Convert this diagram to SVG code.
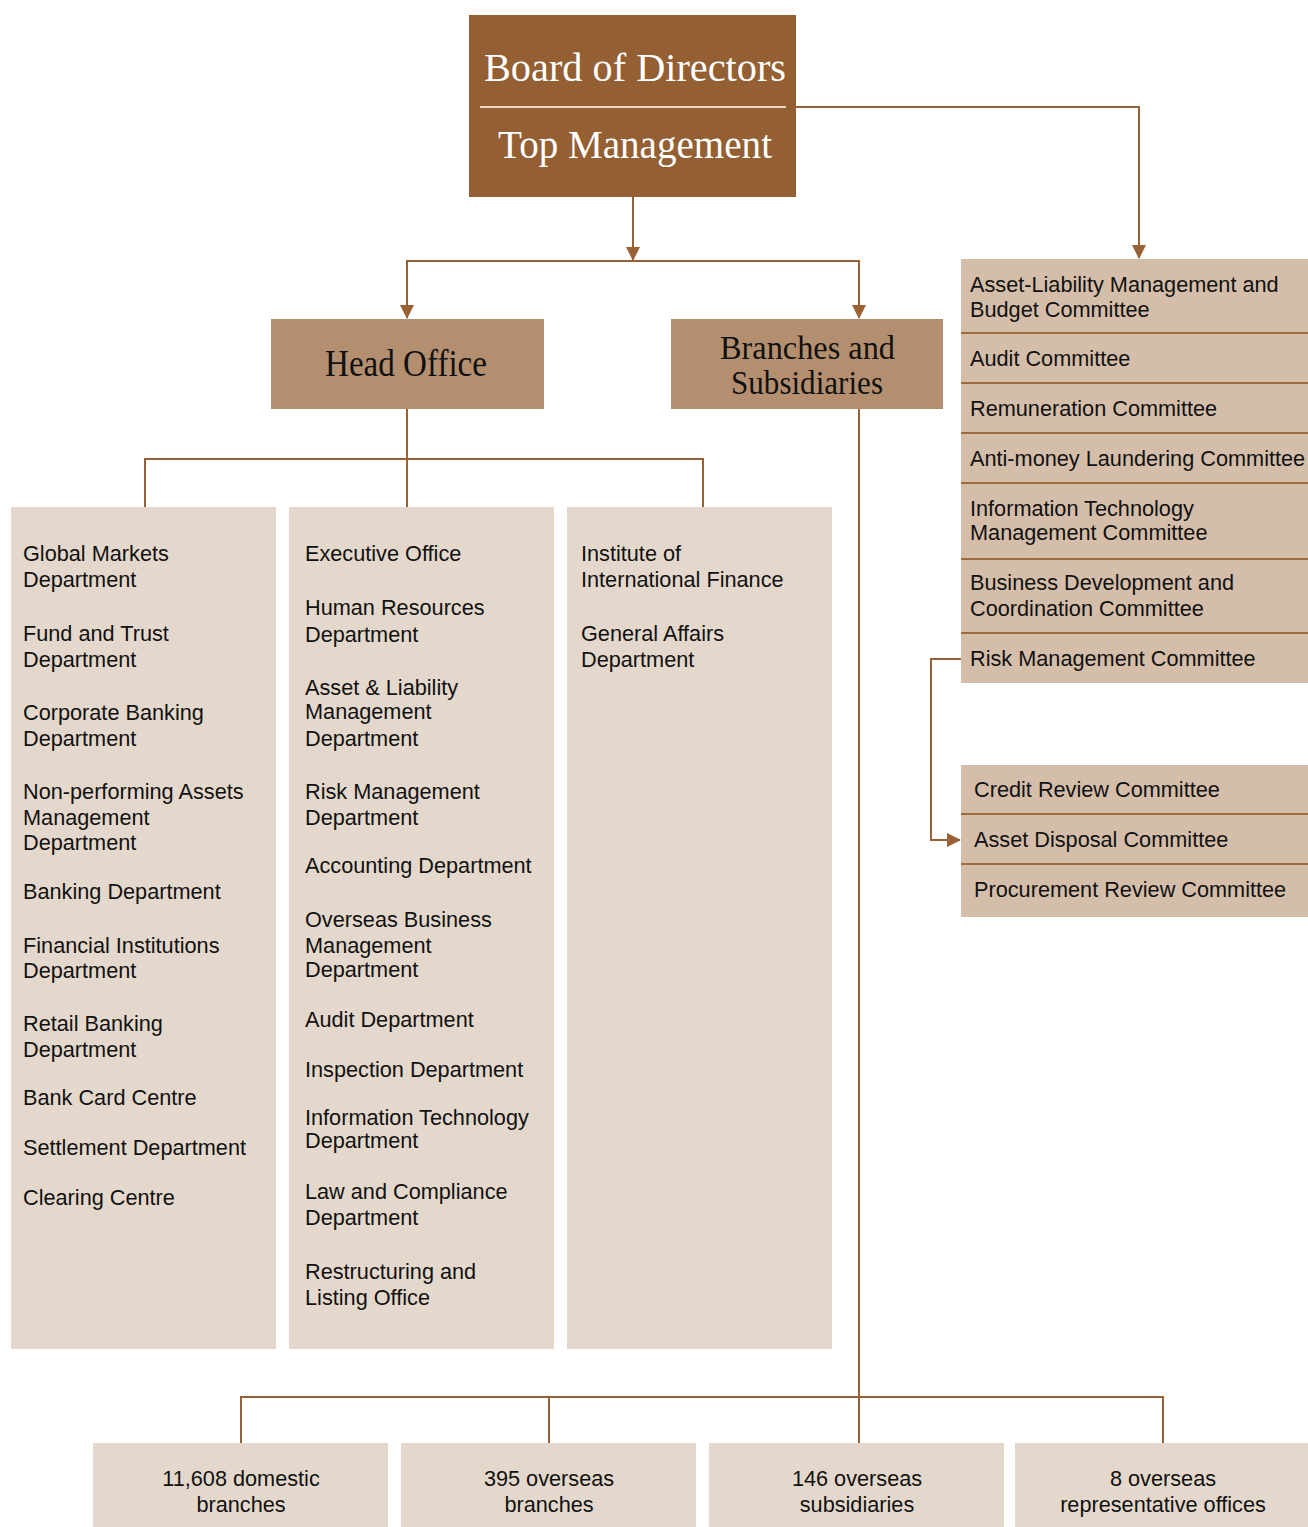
<svg xmlns="http://www.w3.org/2000/svg" width="1308" height="1527" viewBox="0 0 1308 1527">
<style>
.ln{fill:none;stroke:#9A6134;stroke-width:2}
.dv{stroke:#A06B3E;stroke-width:2}
.serifW{font-family:"Liberation Serif","Times New Roman",serif;fill:#ffffff}
.serifB{font-family:"Liberation Serif","Times New Roman",serif;fill:#111111}
.t{font-family:"Liberation Sans",Arial,sans-serif;font-size:21.7px;fill:#111111}
.tc{font-family:"Liberation Sans",Arial,sans-serif;font-size:21.7px;fill:#111111;text-anchor:middle}
.top{fill:#935F33}
.mid{fill:#B48F6F}
.com{fill:#D4BEA9}
.col{fill:#E4D8CC}
</style>
<defs>
<marker id="ah" markerWidth="14" markerHeight="14" refX="13" refY="7" orient="auto" markerUnits="userSpaceOnUse">
<path d="M0,0 L14,7 L0,14 Z" fill="#9A6134"/>
</marker>
</defs>

<g id="connectors">
<path class="ln" d="M633,197 V260" marker-end="url(#ah)"/>
<path class="ln" d="M407,318 V261 H859 V318" marker-end="url(#ah)"/>
<path class="ln" d="M407,261 V318" marker-end="url(#ah)"/>
<path class="ln" d="M796,107 H1139 V258" marker-end="url(#ah)"/>
<path class="ln" d="M961,659 H931 V840 H960" marker-end="url(#ah)"/>
<path class="ln" d="M407,409 V507"/>
<path class="ln" d="M145,507 V459 H703 V507"/>
<path class="ln" d="M859,409 V1443"/>
<path class="ln" d="M241,1443 V1397 H1163 V1443"/>
<path class="ln" d="M549,1397 V1443"/>
</g>

<g id="board">
<rect class="top" x="469" y="15" width="327" height="182"/>
<line x1="480" y1="107" x2="786" y2="107" stroke="#EAD8C4" stroke-width="2"/>
<text class="serifW" x="484" y="81" font-size="41" textLength="302" lengthAdjust="spacingAndGlyphs">Board of  Directors</text>
<text class="serifW" x="498" y="158" font-size="41" textLength="274" lengthAdjust="spacingAndGlyphs">Top Management</text>
</g>

<g id="head-office">
<rect class="mid" x="271" y="319" width="273" height="90"/>
<text class="serifB" x="325" y="376" font-size="38" textLength="162" lengthAdjust="spacingAndGlyphs">Head Office</text>
</g>

<g id="branches-subsidiaries">
<rect class="mid" x="671" y="319" width="272" height="90"/>
<text class="serifB" x="720" y="359" font-size="34" textLength="175" lengthAdjust="spacingAndGlyphs">Branches and</text>
<text class="serifB" x="731" y="394" font-size="34" textLength="152" lengthAdjust="spacingAndGlyphs">Subsidiaries</text>
</g>

<g id="committees">
<rect class="com" x="961" y="259" width="347" height="424"/>
<line class="dv" x1="961" y1="333" x2="1308" y2="333"/>
<line class="dv" x1="961" y1="383" x2="1308" y2="383"/>
<line class="dv" x1="961" y1="433" x2="1308" y2="433"/>
<line class="dv" x1="961" y1="483" x2="1308" y2="483"/>
<line class="dv" x1="961" y1="559" x2="1308" y2="559"/>
<line class="dv" x1="961" y1="633" x2="1308" y2="633"/>
<text class="t" x="970" y="292">Asset-Liability Management and</text>
<text class="t" x="970" y="317">Budget Committee</text>
<text class="t" x="970" y="366">Audit Committee</text>
<text class="t" x="970" y="416">Remuneration Committee</text>
<text class="t" x="970" y="466">Anti-money Laundering Committee</text>
<text class="t" x="970" y="516">Information Technology</text>
<text class="t" x="970" y="540">Management Committee</text>
<text class="t" x="970" y="590">Business Development and</text>
<text class="t" x="970" y="616">Coordination Committee</text>
<text class="t" x="970" y="666">Risk Management Committee</text>
</g>

<g id="risk-subcommittees">
<rect class="com" x="961" y="765" width="347" height="152"/>
<line class="dv" x1="961" y1="814" x2="1308" y2="814"/>
<line class="dv" x1="961" y1="864" x2="1308" y2="864"/>
<text class="t" x="974" y="797">Credit Review Committee</text>
<text class="t" x="974" y="847">Asset Disposal Committee</text>
<text class="t" x="974" y="897">Procurement Review Committee</text>
</g>

<g id="departments-1">
<rect class="col" x="11" y="507" width="265" height="842"/>
<text class="t" x="23" y="561">Global Markets</text>
<text class="t" x="23" y="587">Department</text>
<text class="t" x="23" y="641">Fund and Trust</text>
<text class="t" x="23" y="667">Department</text>
<text class="t" x="23" y="720">Corporate Banking</text>
<text class="t" x="23" y="746">Department</text>
<text class="t" x="23" y="799">Non-performing Assets</text>
<text class="t" x="23" y="825">Management</text>
<text class="t" x="23" y="850">Department</text>
<text class="t" x="23" y="899">Banking Department</text>
<text class="t" x="23" y="953">Financial Institutions</text>
<text class="t" x="23" y="978">Department</text>
<text class="t" x="23" y="1031">Retail Banking</text>
<text class="t" x="23" y="1057">Department</text>
<text class="t" x="23" y="1105">Bank Card Centre</text>
<text class="t" x="23" y="1155">Settlement Department</text>
<text class="t" x="23" y="1205">Clearing Centre</text>
</g>

<g id="departments-2">
<rect class="col" x="289" y="507" width="265" height="842"/>
<text class="t" x="305" y="561">Executive Office</text>
<text class="t" x="305" y="615">Human Resources</text>
<text class="t" x="305" y="642">Department</text>
<text class="t" x="305" y="695">Asset &amp; Liability</text>
<text class="t" x="305" y="719">Management</text>
<text class="t" x="305" y="746">Department</text>
<text class="t" x="305" y="799">Risk Management</text>
<text class="t" x="305" y="825">Department</text>
<text class="t" x="305" y="873">Accounting Department</text>
<text class="t" x="305" y="927">Overseas Business</text>
<text class="t" x="305" y="953">Management</text>
<text class="t" x="305" y="977">Department</text>
<text class="t" x="305" y="1027">Audit Department</text>
<text class="t" x="305" y="1077">Inspection Department</text>
<text class="t" x="305" y="1125">Information Technology</text>
<text class="t" x="305" y="1148">Department</text>
<text class="t" x="305" y="1199">Law and Compliance</text>
<text class="t" x="305" y="1225">Department</text>
<text class="t" x="305" y="1279">Restructuring and</text>
<text class="t" x="305" y="1305">Listing Office</text>
</g>

<g id="departments-3">
<rect class="col" x="567" y="507" width="265" height="842"/>
<text class="t" x="581" y="561">Institute of</text>
<text class="t" x="581" y="587">International Finance</text>
<text class="t" x="581" y="641">General Affairs</text>
<text class="t" x="581" y="667">Department</text>
</g>

<g id="domestic-branches">
<rect class="col" x="93" y="1443" width="295" height="84"/>
<text class="tc" x="241" y="1486">11,608 domestic</text>
<text class="tc" x="241" y="1512">branches</text>
</g>
<g id="overseas-branches">
<rect class="col" x="401" y="1443" width="295" height="84"/>
<text class="tc" x="549" y="1486">395 overseas</text>
<text class="tc" x="549" y="1512">branches</text>
</g>
<g id="overseas-subsidiaries">
<rect class="col" x="709" y="1443" width="295" height="84"/>
<text class="tc" x="857" y="1486">146 overseas</text>
<text class="tc" x="857" y="1512">subsidiaries</text>
</g>
<g id="representative-offices">
<rect class="col" x="1015" y="1443" width="293" height="84"/>
<text class="tc" x="1163" y="1486">8 overseas</text>
<text class="tc" x="1163" y="1512">representative offices</text>
</g>
</svg>
